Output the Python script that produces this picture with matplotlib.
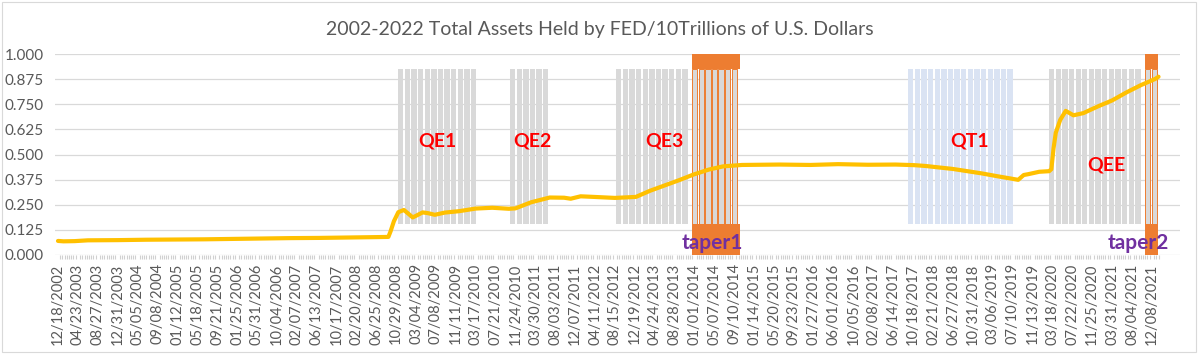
import matplotlib
matplotlib.use("Agg")
import matplotlib.pyplot as plt
import numpy as np
import pandas as pd

# Fed total assets, in units of 10 trillion USD
asset_dates = [
    "2002-12-18", "2003-01-22", "2003-04-02", "2003-06-25", "2003-12-31",
    "2004-06-30", "2004-12-29", "2005-06-29", "2005-12-28", "2006-06-28",
    "2006-12-27", "2007-06-27", "2007-12-26", "2008-03-26", "2008-06-25",
    "2008-09-10", "2008-09-24", "2008-10-15", "2008-11-12", "2008-12-17",
    "2009-01-14", "2009-02-11", "2009-03-04", "2009-04-15", "2009-05-20",
    "2009-07-01", "2009-09-02", "2009-12-02", "2010-03-17", "2010-06-30",
    "2010-10-13", "2010-11-24", "2011-03-02", "2011-06-29", "2011-09-28",
    "2011-11-09", "2012-01-11", "2012-04-04", "2012-08-15", "2012-12-26",
    "2013-03-27", "2013-06-26", "2013-09-25", "2013-12-25", "2014-04-02",
    "2014-07-02", "2014-10-29", "2015-06-24", "2016-01-06", "2016-06-29",
    "2017-01-04", "2017-06-28", "2017-10-25", "2018-01-03", "2018-06-27",
    "2018-12-26", "2019-04-03", "2019-08-14", "2019-09-18", "2019-10-16",
    "2019-12-25", "2020-02-26", "2020-03-11", "2020-03-25", "2020-04-08",
    "2020-05-06", "2020-06-10", "2020-07-29", "2020-09-30", "2020-12-30",
    "2021-03-31", "2021-06-30", "2021-09-29", "2021-12-29", "2022-01-19",
]
asset_values = [
    0.070, 0.068, 0.069, 0.073, 0.074,
    0.076, 0.077, 0.078, 0.080, 0.082,
    0.084, 0.085, 0.087, 0.088, 0.089,
    0.090, 0.118, 0.168, 0.213, 0.224,
    0.206, 0.187, 0.195, 0.212, 0.208,
    0.200, 0.211, 0.218, 0.231, 0.235,
    0.230, 0.232, 0.262, 0.286, 0.285,
    0.280, 0.292, 0.289, 0.284, 0.289,
    0.320, 0.346, 0.372, 0.400, 0.425,
    0.441, 0.448, 0.450, 0.448, 0.452,
    0.449, 0.450, 0.447, 0.443, 0.428,
    0.406, 0.392, 0.374, 0.398, 0.402,
    0.414, 0.417, 0.427, 0.531, 0.608,
    0.672, 0.717, 0.695, 0.706, 0.739,
    0.769, 0.809, 0.845, 0.876, 0.887,
]

tick_labels = [
    "12/18/2002", "04/23/2003", "08/27/2003", "12/31/2003", "05/05/2004",
    "09/08/2004", "01/12/2005", "05/18/2005", "09/21/2005", "01/25/2006",
    "05/31/2006", "10/04/2006", "02/07/2007", "06/13/2007", "10/17/2007",
    "02/20/2008", "06/25/2008", "10/29/2008", "03/04/2009", "07/08/2009",
    "11/11/2009", "03/17/2010", "07/21/2010", "11/24/2010", "03/30/2011",
    "08/03/2011", "12/07/2011", "04/11/2012", "08/15/2012", "12/19/2012",
    "04/24/2013", "08/28/2013", "01/01/2014", "05/07/2014", "09/10/2014",
    "01/14/2015", "05/20/2015", "09/23/2015", "01/27/2016", "06/01/2016",
    "10/05/2016", "02/08/2017", "06/14/2017", "10/18/2017", "02/21/2018",
    "06/27/2018", "10/31/2018", "03/06/2019", "07/10/2019", "11/13/2019",
    "03/18/2020", "07/22/2020", "11/25/2020", "03/31/2021", "08/04/2021",
    "12/08/2021",
]

# policy periods
qe_periods = [("2008-11-10", "2010-03-18"), ("2010-10-20", "2011-06-18"),
              ("2012-08-22", "2013-12-16"), ("2020-02-25", "2021-10-25")]
taper_periods = [("2013-12-16", "2014-10-16"), ("2021-10-25", "2022-01-16")]
qt_periods = [("2017-09-15", "2019-08-13")]

qe_names = ["QE1", "QE2", "QE3", "QT1", "QEE"]
qe_name_dates = ["2009-07-15", "2011-03-09", "2013-06-22", "2018-10-13", "2021-02-20"]
qe_name_y = [0.567, 0.567, 0.567, 0.567, 0.448]
taper_names = ["taper1", "taper2"]
taper_name_dates = ["2014-04-22", "2021-09-11"]

GRAY = "#d9d9d9"
BLUE = "#dae3f3"
ORANGE = "#ed7d31"
TEXT = "#595959"
band_lo, band_hi = 0.155, 0.925


def stripes(ax, start, end, color, edge=None):
    start, end = pd.Timestamp(start), pd.Timestamp(end)
    xs = pd.date_range(start, end - pd.Timedelta(days=30), freq="42D")
    ax.bar(xs, band_hi - band_lo, bottom=band_lo, width=34, align="edge",
           color=color, edgecolor=edge if edge else "none",
           linewidth=0.7 if edge else 0, zorder=1)


fig = plt.figure(figsize=(12, 3.56), dpi=100)
plt.rcParams["font.family"] = ["Lato", "DejaVu Sans"]
ax = fig.add_axes([55 / 1200, 101 / 356, 1125 / 1200, 201 / 356])

for s, e in qe_periods:
    stripes(ax, s, e, GRAY)
for s, e in qt_periods:
    stripes(ax, s, e, BLUE)
for s, e in taper_periods:
    stripes(ax, s, e, GRAY, edge=ORANGE)
    w = (pd.Timestamp(e) - pd.Timestamp(s)).days
    ax.bar(pd.Timestamp(s), 1.0 - band_hi, bottom=band_hi, width=w,
           align="edge", color=ORANGE, zorder=1)
    ax.bar(pd.Timestamp(s), band_lo, bottom=0, width=w,
           align="edge", color=ORANGE, zorder=1)

ax.plot(pd.to_datetime(asset_dates), asset_values, color="#ffc000",
        linewidth=3.0, solid_capstyle="round", zorder=3)

for name, d, y in zip(qe_names, qe_name_dates, qe_name_y):
    ax.text(pd.Timestamp(d), y, name, color="#ff0000", fontsize=14,
            fontweight="bold", ha="center", va="center", zorder=4)
for name, d in zip(taper_names, taper_name_dates):
    ax.text(pd.Timestamp(d), 0.06, name, color="#7030a0", fontsize=15,
            fontweight="bold", ha="center", va="center", zorder=4)

ax.set_ylim(0, 1.0)
ax.set_yticks(np.arange(0, 1.0001, 0.125))
ax.set_yticklabels([f"{v:.3f}" for v in np.arange(0, 1.0001, 0.125)])
ax.yaxis.grid(True, color="#d9d9d9", linewidth=0.9, zorder=0)
ax.set_axisbelow(True)

ax.set_xlim(pd.Timestamp("2002-11-29"), pd.Timestamp("2022-06-04"))
ax.set_xticks(pd.to_datetime(tick_labels, format="%m/%d/%Y"))
ax.set_xticklabels(tick_labels, rotation=90)
ax.set_xticks(pd.date_range("2002-12-18", "2022-01-19", freq="14D"), minor=True)
ax.tick_params(axis="x", which="major", length=0, pad=6, labelsize=10.5,
               labelcolor=TEXT)
ax.tick_params(axis="x", which="minor", length=3, width=0.8, color="#d0d0d0")
ax.tick_params(axis="y", length=0, labelsize=11, labelcolor=TEXT, pad=8)
for sp in ax.spines.values():
    sp.set_visible(False)

fig.text(0.5, 1 - 30 / 356, "2002-2022 Total Assets Held by FED/10Trillions of U.S. Dollars",
         ha="center", va="center", fontsize=14, color=TEXT)

fig.patches.append(plt.Rectangle((2 / 1200, 4 / 356), 1194 / 1200, 350 / 356,
                                 transform=fig.transFigure, fill=False,
                                 edgecolor="#d9d9d9", linewidth=0.8))

fig.savefig("out.png", dpi=100)
